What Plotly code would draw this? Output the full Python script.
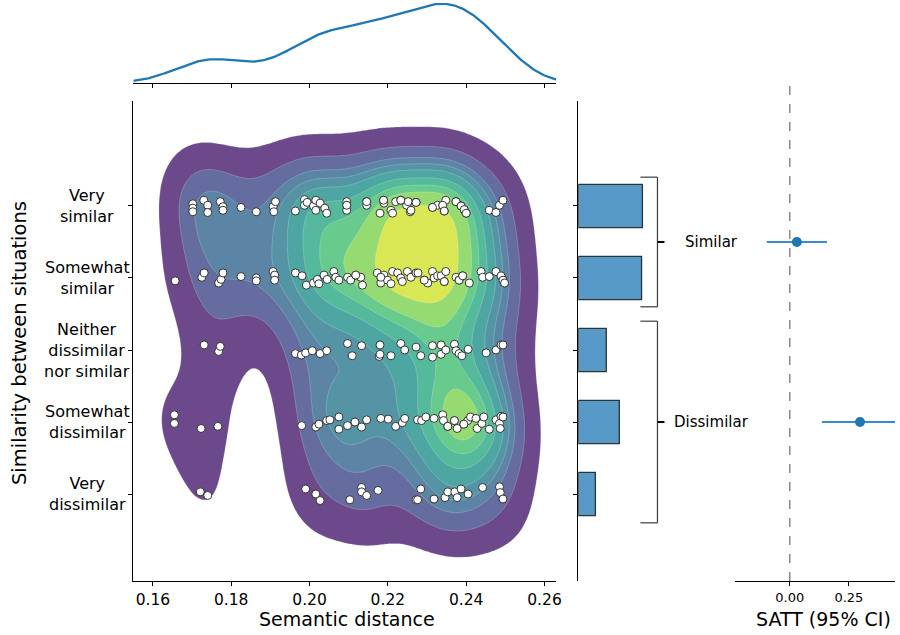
import re
import numpy as np
import plotly.graph_objects as go
from plotly.colors import sample_colorscale

W, H = 900, 635
FONT = "DejaVu Sans"

# ---------------- data ----------------
level_values = [0, 1, 2, 3, 4]
level_labels = ["Very<br>dissimilar", "Somewhat<br>dissimilar",
                "Neither<br>dissimilar<br>nor similar", "Somewhat<br>similar", "Very<br>similar"]

# semantic distance of each response, per similarity level, with its strip jitter
# (the last entries of the dense rows are responses hidden under overlapping markers)
dist_very_similar = [0.1702, 0.1702, 0.1702, 0.1730, 0.1740, 0.1740, 0.1772, 0.1779, 0.1779, 0.1825,
                     0.1864, 0.1907, 0.1913, 0.1909, 0.1964, 0.1987, 0.1987, 0.1994, 0.2010, 0.2016,
                     0.2016, 0.2027, 0.2039, 0.2044, 0.2095, 0.2095, 0.2095, 0.2146, 0.2146, 0.2189,
                     0.2190, 0.2180, 0.2208, 0.2212, 0.2220, 0.2233, 0.2248, 0.2252, 0.2257, 0.2259,
                     0.2272, 0.2314, 0.2327, 0.2340, 0.2344, 0.2348, 0.2374, 0.2387, 0.2395, 0.2400,
                     0.2459, 0.2476, 0.2485, 0.2494,
                     0.2095, 0.2146, 0.2189, 0.2233, 0.2272, 0.2314, 0.2340, 0.2344, 0.2374, 0.2387,
                     0.2395, 0.2400]
jit_very_similar = [0.03, -0.03, -0.08, 0.08, 0.01, -0.09, 0.06, -0.01, -0.06, -0.02,
                    -0.08, -0.01, 0.06, -0.08, -0.07, 0.09, 0.01, 0.05, 0.00, 0.08,
                    -0.06, 0.04, -0.03, -0.10, 0.06, 0.01, -0.06, 0.06, 0.01, 0.08,
                    0.04, -0.10, -0.06, -0.10, 0.06, 0.08, 0.01, 0.06, -0.08, -0.06,
                    0.05, -0.02, 0.01, 0.01, -0.07, 0.08, 0.06, 0.00, -0.05, -0.10,
                    -0.06, -0.09, 0.01, 0.08,
                    0.01, 0.06, 0.08, 0.08, 0.05, -0.02, 0.01, -0.07, 0.06, 0.00,
                    -0.05, -0.10]

dist_somewhat_similar = [0.1657, 0.1725, 0.1731, 0.1768, 0.1774, 0.1779, 0.1825, 0.1864, 0.1864, 0.1907,
                         0.1911, 0.1911, 0.1964, 0.1981, 0.1992, 0.2010, 0.2020, 0.2024, 0.2037, 0.2045,
                         0.2062, 0.2067, 0.2075, 0.2097, 0.2105, 0.2118, 0.2131, 0.2135, 0.2173, 0.2182,
                         0.2182, 0.2190, 0.2199, 0.2208, 0.2212, 0.2225, 0.2233, 0.2237, 0.2250, 0.2259,
                         0.2272, 0.2277, 0.2293, 0.2302, 0.2314, 0.2318, 0.2327, 0.2336, 0.2344, 0.2348,
                         0.2374, 0.2382, 0.2391, 0.2408, 0.2438, 0.2442, 0.2459, 0.2476, 0.2489, 0.2494,
                         0.2498,
                         0.2118, 0.2182, 0.2293, 0.2344, 0.2382, 0.2391]
jit_somewhat_similar = [-0.04, 0.01, 0.07, -0.07, -0.02, 0.07, 0.02, 0.00, -0.04, 0.09,
                        0.04, -0.03, 0.07, 0.03, -0.10, -0.07, -0.02, -0.08, 0.04, -0.02,
                        0.09, 0.01, -0.03, 0.01, -0.03, 0.04, 0.01, -0.10, 0.07, 0.01,
                        -0.07, 0.04, -0.03, -0.08, 0.09, 0.07, 0.00, -0.05, 0.09, 0.01,
                        0.07, 0.07, -0.03, -0.07, 0.09, 0.00, 0.03, 0.03, -0.05, 0.09,
                        0.01, -0.03, 0.03, -0.07, 0.09, 0.01, 0.02, 0.09, 0.03, -0.03,
                        -0.07,
                        0.04, 0.01, -0.03, -0.05, -0.03, 0.03]

dist_neither = [0.1731, 0.1768, 0.1772, 0.1964, 0.1979, 0.1990, 0.2007, 0.2027, 0.2044, 0.2097,
                0.2109, 0.2133, 0.2178, 0.2180, 0.2180, 0.2208, 0.2233, 0.2243, 0.2272, 0.2284,
                0.2314, 0.2314, 0.2336, 0.2336, 0.2348, 0.2370, 0.2374, 0.2382, 0.2389, 0.2405,
                0.2451, 0.2476, 0.2489, 0.2494]
jit_neither = [0.07, -0.02, 0.05, -0.05, -0.07, -0.04, -0.01, -0.05, -0.01, 0.09,
               -0.08, 0.06, -0.09, 0.07, -0.06, -0.08, 0.09, 0.00, 0.04, -0.08,
               0.06, -0.10, 0.07, -0.06, 0.00, 0.08, -0.01, -0.05, -0.08, 0.01,
               -0.04, 0.00, 0.07, 0.07]

dist_somewhat_dissimilar = [0.1655, 0.1655, 0.1723, 0.1766, 0.1980, 0.2016, 0.2024, 0.2044, 0.2052, 0.2075,
                            0.2075, 0.2097, 0.2116, 0.2133, 0.2146, 0.2182, 0.2201, 0.2220, 0.2237, 0.2243,
                            0.2276, 0.2286, 0.2297, 0.2318, 0.2340, 0.2342, 0.2353, 0.2370, 0.2377, 0.2394,
                            0.2404, 0.2411, 0.2425, 0.2428, 0.2440, 0.2445, 0.2459, 0.2476, 0.2485, 0.2487,
                            0.2489, 0.2494,
                            0.2353, 0.2370, 0.2394]
jit_somewhat_dissimilar = [0.10, -0.02, -0.09, -0.06, -0.05, -0.07, -0.03, 0.02, 0.03, 0.07,
                           -0.10, -0.05, 0.00, -0.07, 0.03, 0.05, 0.04, -0.06, -0.01, 0.05,
                           0.03, 0.02, 0.07, 0.05, 0.10, 0.02, -0.06, 0.02, -0.09, -0.03,
                           0.02, 0.07, 0.05, -0.09, -0.02, 0.07, -0.10, 0.03, -0.02, -0.09,
                           0.08, 0.07,
                           -0.06, 0.02, -0.03]

dist_very_dissimilar = [0.1721, 0.1740, 0.1990, 0.2016, 0.2027, 0.2103, 0.2133, 0.2133, 0.2146, 0.2175,
                        0.2272, 0.2276, 0.2284, 0.2318, 0.2346, 0.2353, 0.2371, 0.2377, 0.2387, 0.2405,
                        0.2442, 0.2485, 0.2487, 0.2494]
jit_very_dissimilar = [0.03, -0.02, 0.07, 0.00, -0.09, -0.08, 0.09, 0.03, -0.02, 0.05,
                       -0.08, -0.08, 0.07, -0.07, -0.05, 0.03, 0.03, -0.05, 0.07, 0.00,
                       0.09, 0.10, 0.02, -0.07]

# share of responses per level (levels 0..4)
share_by_level = [0.080, 0.192, 0.131, 0.296, 0.300]

# grouped treatment effects
group_names = ["Similar", "Dissimilar"]
group_levels = [[3, 4], [0, 1, 2]]
satt_est = [0.030, 0.297]
satt_lo = [-0.097, 0.136]
satt_hi = [0.157, 0.462]

x_ticks = [0.16, 0.18, 0.20, 0.22, 0.24, 0.26]
x_ticktext = ["0.16", "0.18", "0.20", "0.22", "0.24", "0.26"]
satt_ticks = [0.0, 0.25]
satt_ticktext = ["0.00", "0.25"]

# ---------------- assemble ----------------
rows = [
    (0, dist_very_dissimilar, jit_very_dissimilar),
    (1, dist_somewhat_dissimilar, jit_somewhat_dissimilar),
    (2, dist_neither, jit_neither),
    (3, dist_somewhat_similar, jit_somewhat_similar),
    (4, dist_very_similar, jit_very_similar),
]
all_x = np.concatenate([np.array(d, float) for _, d, _ in rows])
all_lvl = np.concatenate([np.full(len(d), lv, float) for lv, d, _ in rows])

XW = 893.0  # effective horizontal layout width


def px_x(p):
    return min(p / XW, 1.0)


def px_y(p):
    return 1 - p / H


X_RANGE = [0.155, 0.263]
Y_RANGE = [-1.208, 5.458]
MAIN_XD = [px_x(133), px_x(555)]
MAIN_YD = [px_y(581), px_y(101)]

# forest axis: 0 at 788px, 0.25 at 847px
F_DOM = [px_x(733), 1.0]
_per = 0.25 / (px_x(847) - px_x(788))
F_RANGE = [-(px_x(788) - F_DOM[0]) * _per, (F_DOM[1] - px_x(788)) * _per]

# ---------- 2D KDE (scott) ----------
BW_ADJUST_X = 0.75
BW_ADJUST_Y = 1.0
data = np.vstack([all_x, all_lvl])
n = data.shape[1]
factor = n ** (-1.0 / 6)
S = np.diag([BW_ADJUST_X, BW_ADJUST_Y])
cov = S @ (np.cov(data) * factor ** 2) @ S
inv = np.linalg.inv(cov)
bw = np.sqrt(np.diag(cov))
xg = np.linspace(all_x.min() - 3 * bw[0], all_x.max() + 3 * bw[0], 220)
yg = np.linspace(all_lvl.min() - 3 * bw[1], all_lvl.max() + 3 * bw[1], 220)
XX, YY = np.meshgrid(xg, yg)
dens = np.zeros_like(XX)
for i in range(n):
    d0 = XX - data[0, i]
    d1 = YY - data[1, i]
    q = inv[0, 0] * d0 * d0 + 2 * inv[0, 1] * d0 * d1 + inv[1, 1] * d1 * d1
    dens += np.exp(-0.5 * q)
dens /= n * 2 * np.pi * np.sqrt(np.linalg.det(cov))

vals = dens.ravel()
order = np.argsort(vals)[::-1]
sv = vals[order]
cum = np.cumsum(sv) / vals.sum()
Q = np.empty_like(vals)
Q[order] = 1 - cum
Q = Q.reshape(dens.shape)

N_LEVELS = 10
THRESH = 0.05
p_levels = np.linspace(THRESH, 1, N_LEVELS)
idx = np.searchsorted(cum, 1 - p_levels)
dlev = np.take(sv, idx, mode="clip")
mids = (dlev[:-1] + dlev[1:]) / 2
tn = (mids - dlev[0]) / (dlev[-1] - dlev[0])
ALPHA = 0.8
band_cols = []
for c in sample_colorscale("Viridis", list(np.clip(tn, 0, 1))):
    r, g, b = [float(v) for v in re.findall(r"[\d.]+", c)[:3]]
    r, g, b = [255 * (1 - ALPHA) + v * ALPHA for v in (r, g, b)]
    band_cols.append(f"rgb({r:.0f},{g:.0f},{b:.0f})")
nb = len(band_cols)  # 9
colorscale = [[0.0, "rgba(255,255,255,0)"]] + [[(k + 1) / nb, band_cols[k]] for k in range(nb)]
step = (1 - THRESH) / (N_LEVELS - 1)

# ---------- marginal KDE ----------
bw1 = np.std(all_x, ddof=1) * n ** (-1.0 / 5)
xs = np.linspace(X_RANGE[0], X_RANGE[1], 400)
mdens = np.exp(-0.5 * ((xs[:, None] - all_x[None, :]) / bw1) ** 2).sum(1) / (n * bw1 * np.sqrt(2 * np.pi))

fig = go.Figure()

fig.add_trace(go.Contour(
    x=xg, y=yg, z=Q, xaxis="x", yaxis="y",
    autocontour=False,
    contours=dict(start=THRESH, end=THRESH + (nb - 1) * step + step * 0.001, size=step,
                  coloring="fill", showlines=True),
    line=dict(width=0.6, color="rgba(255,255,255,0.35)", smoothing=1),
    colorscale=colorscale, showscale=False, hoverinfo="skip",
))

for lv, d, j in rows:
    fig.add_trace(go.Scatter(
        x=d, y=[lv + jj for jj in j], mode="markers", xaxis="x", yaxis="y",
        marker=dict(size=8, color="white", line=dict(color="#222222", width=0.9)),
        hoverinfo="skip", showlegend=False,
    ))

# marginal
fig.add_trace(go.Scatter(x=xs, y=mdens, mode="lines", xaxis="x4", yaxis="y4",
                         line=dict(color="#1f77b4", width=2.3), hoverinfo="skip", showlegend=False))

# bars
fig.add_trace(go.Bar(
    x=share_by_level, y=level_values, orientation="h", width=0.6, xaxis="x2", yaxis="y2",
    marker=dict(color="rgba(31,119,180,0.75)", line=dict(color="rgba(0,0,0,0.75)", width=1.3)),
    hoverinfo="skip", showlegend=False,
))

# forest
group_pos = [float(np.mean(g)) for g in group_levels]
fig.add_trace(go.Scatter(
    x=satt_est, y=group_pos, mode="markers", xaxis="x3", yaxis="y3",
    marker=dict(size=10, color="#1f77b4"),
    error_x=dict(type="data", symmetric=False,
                 array=[h - e for h, e in zip(satt_hi, satt_est)],
                 arrayminus=[e - l for e, l in zip(satt_est, satt_lo)],
                 color="#3a8bc6", thickness=2.2, width=0),
    hoverinfo="skip", showlegend=False,
))

axis_common = dict(showgrid=False, zeroline=False, linecolor="black", linewidth=1,
                   ticks="outside", ticklen=4, tickwidth=1, tickcolor="black",
                   tickfont=dict(family=FONT, size=15.5, color="black"))

shapes = []
annotations = []

# dashed zero line in forest panel
shapes.append(dict(type="line", xref="x3", yref="paper", x0=0, x1=0,
                   y0=px_y(581), y1=px_y(80),
                   line=dict(color="#8a8a8a", width=1.5, dash="dash")))

# brackets
for name, lv, gp in zip(group_names, group_levels, group_pos):
    lo, hi = min(lv) - 0.4, max(lv) + 0.4
    col = "#3a3a3a"
    shapes.append(dict(type="line", xref="paper", yref="y", x0=px_x(656), x1=px_x(656), y0=lo, y1=hi,
                       line=dict(color=col, width=1.2)))
    for yv in (lo, hi):
        shapes.append(dict(type="line", xref="paper", yref="y", x0=px_x(639), x1=px_x(656), y0=yv, y1=yv,
                           line=dict(color=col, width=1.2)))
    shapes.append(dict(type="line", xref="paper", yref="y", x0=px_x(656), x1=px_x(663), y0=gp, y1=gp,
                       line=dict(color="black", width=2)))
    annotations.append(dict(text=name, xref="paper", yref="y", x=px_x(710), y=gp, showarrow=False,
                            xanchor="center", yanchor="middle",
                            font=dict(family=FONT, size=15, color="black")))

# y tick labels (centered multi-line)
for lv, lab in zip(level_values, level_labels):
    annotations.append(dict(text=lab, xref="paper", yref="y", x=px_x(87), y=lv, showarrow=False,
                            xanchor="center", yanchor="middle", align="center",
                            font=dict(family=FONT, size=16, color="black")))

annotations.append(dict(text="Similarity between situations", xref="paper", yref="paper",
                        x=px_x(20), y=px_y(343), textangle=-90, showarrow=False,
                        xanchor="center", yanchor="middle",
                        font=dict(family=FONT, size=19.5, color="black")))
annotations.append(dict(text="Semantic distance", xref="paper", yref="paper",
                        x=px_x(346), y=px_y(619), showarrow=False, xanchor="center", yanchor="middle",
                        font=dict(family=FONT, size=19, color="black")))
annotations.append(dict(text="SATT (95% CI)", xref="paper", yref="paper",
                        x=px_x(822), y=px_y(619), showarrow=False, xanchor="center", yanchor="middle",
                        font=dict(family=FONT, size=19, color="black")))

fig.update_layout(
    width=W, height=H, margin=dict(l=0, r=0, t=0, b=0), autosize=False,
    paper_bgcolor="white", plot_bgcolor="rgba(0,0,0,0)", showlegend=False,
    xaxis=dict(domain=MAIN_XD, range=X_RANGE, anchor="y", showline=True,
               tickvals=x_ticks, ticktext=x_ticktext, **axis_common),
    yaxis=dict(domain=MAIN_YD, range=Y_RANGE, anchor="x", showline=True,
               tickvals=level_values, showticklabels=False, **axis_common),
    xaxis2=dict(domain=[px_x(577), px_x(657)], range=[0, 0.375], anchor="y2", visible=False),
    yaxis2=dict(domain=MAIN_YD, range=Y_RANGE, anchor="x2", showline=True,
                tickvals=level_values, showticklabels=False, **axis_common),
    xaxis3=dict(domain=F_DOM, range=F_RANGE, anchor="y3", showline=True,
                tickvals=satt_ticks, ticktext=satt_ticktext,
                **{**axis_common, "tickfont": dict(family=FONT, size=13, color="black")}),
    yaxis3=dict(domain=MAIN_YD, range=Y_RANGE, anchor="x3", visible=False),
    xaxis4=dict(domain=MAIN_XD, range=X_RANGE, anchor="y4", showline=True,
                tickvals=x_ticks, showticklabels=False, **axis_common),
    yaxis4=dict(domain=[px_y(83), px_y(3)], range=[0, float(mdens.max()) * 1.01], anchor="x4",
                visible=False),
    shapes=shapes, annotations=annotations,
)

fig.write_html("out.html", config={"displayModeBar": False, "responsive": False},
               post_script="document.body.style.margin='0px';document.body.style.overflow='hidden';")
